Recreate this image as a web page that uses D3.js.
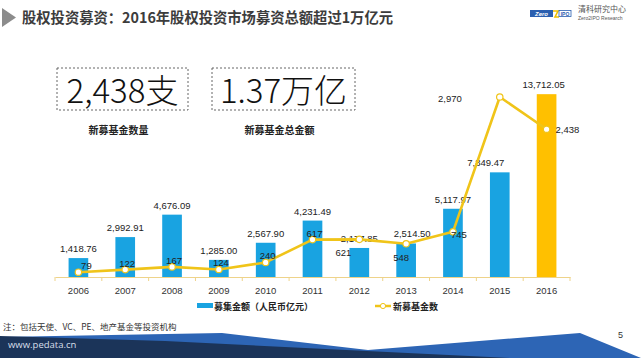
<!DOCTYPE html>
<meta charset="utf-8">
<script src="https://d3js.org/d3.v7.min.js"></script>
<style>
  body { margin: 0; background: #fff; }
  svg { display: block; }
</style>
<body>
<svg id="slide" width="641" height="358"></svg>
<script>

// data
var years = ["2006","2007","2008","2009","2010","2011","2012","2013","2014","2015","2016"];
var amounts = [1418.76, 2992.91, 4676.09, 1285.00, 2567.90, 4231.49, 2177.85, 2514.50, 5117.97, 7849.47, 13712.05];
var fundCounts = [79, 122, 167, 124, 240, 617, 621, 548, 745, 2970, 2438];
var titleText = "股权投资募资：2016年股权投资市场募资总额超过1万亿元";
var bigStats = ["2,438支", "1.37万亿"];
var bigStatLabels = ["新募基金数量", "新募基金总金额"];
var legendLabels = ["募集金额（人民币亿元）", "新募基金数"];
var noteText = "注：包括天使、VC、PE、地产基金等投资机构";

var cjk = "'Noto Sans CJK SC', 'Noto Sans', sans-serif";
var num = "'Liberation Sans', Arial, sans-serif";
var blue = "#19a3e1", gold = "#ffc000", lineGold = "#f0c419";

var svg = d3.select("#slide");

// ---- header
svg.append("path").attr("d", "M2,8 L16,17.5 L2,27 Z").attr("fill", "#8c8c8c");
svg.append("text").attr("x", 22).attr("y", 23)
  .style("font-family", cjk).style("font-weight", 700).style("font-size", "14.3px")
  .attr("fill", "#3c3c3c").text(titleText);

// little logo, top right
var logo = svg.append("g").attr("transform", "translate(530,10)");
logo.append("rect").attr("width", 23).attr("height", 7).attr("fill", "#2b5fb0");
logo.append("text").attr("x", 11.5).attr("y", 5.8).attr("text-anchor", "middle")
  .style("font-family", num).style("font-weight", 700).style("font-size", "6px").style("font-style", "italic")
  .attr("fill", "#fff").text("Zero");
logo.append("path").attr("d", "M23,1 L28,1 L25,7 L29,7").attr("fill", "none").attr("stroke", "#f2c200").attr("stroke-width", 1.6);
logo.append("rect").attr("x", 29).attr("y", 0.5).attr("width", 12).attr("height", 6).attr("fill", "none").attr("stroke", "#2b5fb0").attr("stroke-width", 0.8);
logo.append("text").attr("x", 35).attr("y", 5.5).attr("text-anchor", "middle")
  .style("font-family", num).style("font-weight", 700).style("font-size", "5px").attr("fill", "#2b5fb0").text("IPO");
logo.append("text").attr("x", 48).attr("y", 2)
  .style("font-family", cjk).style("font-size", "8px").attr("fill", "#555").text("清科研究中心");
logo.append("text").attr("x", 48).attr("y", 10)
  .style("font-family", num).style("font-size", "5px").attr("fill", "#555").text("Zero2IPO Research");

// ---- headline stats
var statBoxes = [{x: 57, w: 131}, {x: 212, w: 143}];
bigStats.forEach(function(s, i) {
  var b = statBoxes[i];
  svg.append("rect").attr("x", b.x).attr("y", 68).attr("width", b.w).attr("height", 42)
    .attr("fill", "none").attr("stroke", "#666").attr("stroke-width", 1).attr("stroke-dasharray", "2,2");
  svg.append("text").attr("x", b.x + b.w / 2).attr("y", 103).attr("text-anchor", "middle")
    .style("font-family", cjk).style("font-weight", 300).style("font-size", "33px")
    .attr("fill", "#111").text(s);
  svg.append("text").attr("x", b.x + b.w / 2 - 4).attr("y", 134).attr("text-anchor", "middle")
    .style("font-family", cjk).style("font-weight", 700).style("font-size", "10px")
    .attr("fill", "#222").text(bigStatLabels[i]);
});

// ---- chart
var x = d3.scaleBand().domain(years).range([55, 570]).paddingInner(0.58).paddingOuter(0.29);
var yAmt = d3.scaleLinear().domain([0, 15000]).range([277, 77]);
var yCnt = d3.scaleLinear().domain([0, 3300]).range([277, 77]);
var cx = function(d) { return x(d) + x.bandwidth() / 2; };

var chart = svg.append("g");

chart.selectAll("rect.bar").data(years).join("rect").attr("class", "bar")
  .attr("x", function(d) { return x(d); })
  .attr("width", x.bandwidth())
  .attr("y", function(d, i) { return yAmt(amounts[i]); })
  .attr("height", function(d, i) { return yAmt(0) - yAmt(amounts[i]); })
  .attr("fill", function(d, i) { return i === years.length - 1 ? gold : blue; });

// x axis: gold baseline, ticks between categories
var axis = chart.append("g").attr("transform", "translate(0,277)")
  .call(d3.axisBottom(x).tickSize(0).tickPadding(10));
axis.select(".domain").attr("stroke", "#eed38a").attr("stroke-width", 1.2);
axis.selectAll("text").style("font-family", num).style("font-size", "9.5px").attr("fill", "#333");
axis.selectAll("line.sep").data(d3.range(years.length + 1)).join("line").attr("class", "sep")
  .attr("x1", function(i) { return 55 + i * x.step(); })
  .attr("x2", function(i) { return 55 + i * x.step(); })
  .attr("y1", 0).attr("y2", 4).attr("stroke", "#eed38a");

// bar value labels (nudged where the slide had them off-centre)
var amtShift = {"2013": 6, "2015": -14, "2016": -3};
chart.selectAll("text.amt").data(years).join("text").attr("class", "amt")
  .attr("x", function(d) { return cx(d) + (amtShift[d] || 0); })
  .attr("y", function(d, i) { return yAmt(amounts[i]) - 6; })
  .attr("text-anchor", "middle")
  .style("font-family", num).style("font-size", "9.5px").attr("fill", "#222")
  .text(function(d, i) { return d3.format(",.2f")(amounts[i]); });

// fund count line
var line = d3.line().x(function(d) { return cx(d); })
  .y(function(d, i) { return yCnt(fundCounts[i]); });
chart.append("path").datum(years).attr("d", line)
  .attr("fill", "none").attr("stroke", lineGold).attr("stroke-width", 2.6).attr("stroke-linejoin", "round");
chart.selectAll("circle.pt").data(years).join("circle").attr("class", "pt")
  .attr("cx", cx).attr("cy", function(d, i) { return yCnt(fundCounts[i]); })
  .attr("r", 3.2).attr("fill", "#fff").attr("stroke", lineGold).attr("stroke-width", 1.2);

var cntPlace = {
  "2006": [8, -3, "middle"], "2012": [-16, 17, "middle"], "2013": [-5, 17, "middle"],
  "2014": [-2, 6, "start"], "2015": [-38, 5, "end"], "2016": [9, 4, "start"]
};
chart.selectAll("text.cnt").data(years).join("text").attr("class", "cnt")
  .attr("x", function(d) { return cx(d) + (cntPlace[d] ? cntPlace[d][0] : 2); })
  .attr("y", function(d, i) { return yCnt(fundCounts[i]) + (cntPlace[d] ? cntPlace[d][1] : -3); })
  .attr("text-anchor", function(d) { return cntPlace[d] ? cntPlace[d][2] : "middle"; })
  .style("font-family", num).style("font-size", "9.5px").attr("fill", "#222")
  .text(function(d, i) { return d3.format(",")(fundCounts[i]); });

// legend
var lg = svg.append("g").style("font-family", cjk).style("font-weight", 700).style("font-size", "9px").attr("fill", "#222");
lg.append("rect").attr("x", 197).attr("y", 303).attr("width", 16).attr("height", 5).attr("fill", blue);
lg.append("text").attr("x", 214).attr("y", 309.5).text(legendLabels[0]);
lg.append("line").attr("x1", 375).attr("x2", 391).attr("y1", 306).attr("y2", 306).attr("stroke", lineGold).attr("stroke-width", 2.5);
lg.append("circle").attr("cx", 383).attr("cy", 306).attr("r", 2.6).attr("fill", "#fff").attr("stroke", lineGold);
lg.append("text").attr("x", 393).attr("y", 309.5).text(legendLabels[1]);

svg.append("text").attr("x", 3).attr("y", 330)
  .style("font-family", cjk).style("font-size", "8.5px").attr("fill", "#333").text(noteText);

// ---- footer band
svg.append("path").attr("d", "M0,337 L222,333 L368,350 L580,333 L641,358 L0,358 Z").attr("fill", "#2d65b5");
svg.append("path").attr("d", "M0,336 L165,341 L510,358 L0,358 Z").attr("fill", "#1b3459");
svg.append("text").attr("x", 8).attr("y", 348)
  .style("font-family", "'Open Sans', sans-serif").style("font-size", "9.5px").attr("fill", "#d7dfea").text("www.pedata.cn");
svg.append("text").attr("x", 618).attr("y", 338)
  .style("font-family", num).style("font-size", "9px").attr("fill", "#333").text("5");

</script>
</body>
